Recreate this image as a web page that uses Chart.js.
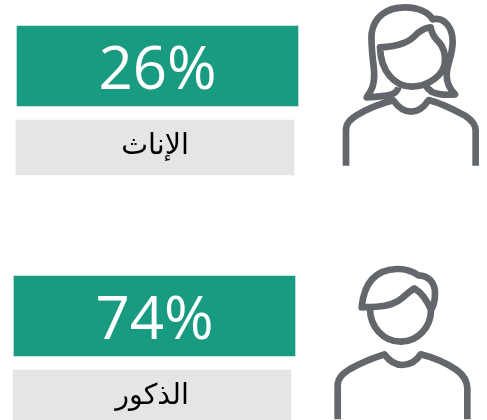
<!DOCTYPE html>
<html lang="ar">
<head>
<meta charset="utf-8">
<title>الإناث والذكور</title>
<script src="https://cdn.jsdelivr.net/npm/chart.js@4/dist/chart.umd.min.js"></script>
<style>
    html, body { margin: 0; padding: 0; background: #fff; overflow: hidden; }
    canvas { display: block; }
</style>
</head>
<body>
<canvas id="myChart" width="487" height="420"></canvas>
<script>
const categories = ["الإناث", "الذكور"];
const percentages = [26, 74];

// page layout of each row, in picture pixels (not data)
const greenLeft = [17, 14];
const greyLeft = [16, 13];
const rowTop = [26, 276];
const iconOrigin = [[330, 0], [325, 260]];

const GREEN = "#189b80";
const GREY = "#e5e5e5";
const ICON = "#63666a";

// icons traced at 3x, so they get scaled down when drawn
const femaleIcon = new Path2D(
    "M48 497 L48 392 C48 368 62 358 78 347 C110 328 155 310 190 301 C205 322 222 335 243 335 C265 335 283 320 296 300 " +
    "C335 310 370 328 405 347 C422 358 437 372 437 392 L437 497 " +
    "M205 262 C200 285 180 288 110 292 C125 270 135 255 132 210 C128 170 122 130 125 100 C132 50 170 22 225 22 C262 22 295 35 308 58 " +
    "C345 50 368 85 368 125 C368 165 350 195 350 225 C350 250 362 270 375 283 C345 286 320 282 305 275 C298 270 292 265 288 258 " +
    "M150 142 C210 140 240 125 262 100 C275 90 290 82 302 82 C305 105 318 118 330 130 C342 145 345 165 345 180 " +
    "C345 225 295 260 245 260 C195 260 152 215 150 142 Z"
);
const maleIcon = new Path2D(
    "M38 478 L38 378 C38 352 55 340 75 327 C110 307 150 292 178 283 C192 302 210 315 232 315 C255 315 275 302 287 283 " +
    "C320 291 365 310 395 330 C415 345 427 360 427 385 L427 478 " +
    "M110 142 C115 90 135 30 215 27 C245 26 265 35 280 46 C310 46 330 68 330 100 C330 122 326 138 318 150 " +
    "C305 118 288 97 268 85 C250 95 235 115 215 125 C190 140 160 140 110 142 Z " +
    "M135 146 C135 200 175 245 228 245 C280 245 318 200 318 150"
);
const icons = [femaleIcon, maleIcon];

const labelsPlugin = {
    id: "panelText",
    afterDatasetsDraw(chart) {
        const ctx = chart.ctx;
        const green = chart.getDatasetMeta(0).data;
        const grey = chart.getDatasetMeta(1).data;

        ctx.save();
        ctx.textAlign = "center";
        ctx.textBaseline = "middle";
        for (let i = 0; i < categories.length; i++) {
            ctx.fillStyle = "#fff";
            ctx.font = "60px 'Open Sans'";
            ctx.fillText(percentages[i] + "%", (green[i].x + green[i].base) / 2, green[i].y + 6);

            ctx.fillStyle = "#000";
            ctx.font = "28.5px 'DejaVu Sans'";
            ctx.fillText(categories[i], (grey[i].x + grey[i].base) / 2, grey[i].y - 1);

            ctx.save();
            ctx.translate(iconOrigin[i][0], iconOrigin[i][1]);
            ctx.scale(1 / 3, 1 / 3);
            ctx.strokeStyle = ICON;
            ctx.lineWidth = 20;
            ctx.lineJoin = "round";
            ctx.stroke(icons[i]);
            ctx.restore();
        }
        ctx.restore();
    }
};

new Chart("myChart", {
    type: "bar",
    data: {
        datasets: [{
                label: "green",
                backgroundColor: GREEN,
                barThickness: 80,
                data: categories.map((c, i) => ({x: [greenLeft[i], greenLeft[i] + 281], y: rowTop[i] + 40}))
            }, {
                label: "grey",
                backgroundColor: GREY,
                barThickness: 55,
                data: categories.map((c, i) => ({x: [greyLeft[i], greyLeft[i] + 278], y: rowTop[i] + 121.5}))
            }]
    },
    options: {
        indexAxis: "y",
        responsive: false,
        animation: false,
        layout: {padding: 0},
        scales: {
            x: {type: "linear", display: false, min: 0, max: 487},
            y: {type: "linear", display: false, min: 0, max: 420, reverse: true, offset: false}
        },
        plugins: {
            legend: {display: false},
            tooltip: {enabled: false}
        },
        datasets: {bar: {grouped: false}}
    },
    plugins: [labelsPlugin]
});
</script>
</body>
</html>
